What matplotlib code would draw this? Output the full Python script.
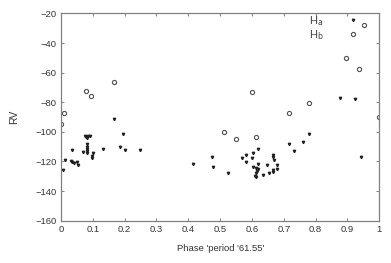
import matplotlib
matplotlib.use("Agg")
import matplotlib.pyplot as plt

# H_a : filled small triangles
ha_phase = [0.007, 0.013, 0.034, 0.030, 0.036, 0.040, 0.051, 0.052, 0.068,
            0.075, 0.080, 0.085, 0.090, 0.082, 0.082, 0.082, 0.082, 0.082, 0.082,
            0.096, 0.096, 0.100, 0.133, 0.167, 0.185, 0.194, 0.201, 0.248,
            0.416, 0.474, 0.479, 0.524, 0.568, 0.581, 0.581, 0.599, 0.602, 0.620,
            0.604, 0.620, 0.612, 0.615, 0.612, 0.610, 0.613, 0.618, 0.636, 0.648,
            0.653, 0.665, 0.667, 0.669, 0.665, 0.667, 0.680, 0.680, 0.716, 0.733,
            0.759, 0.780, 0.877, 0.924, 0.943]
ha_rv = [-125.8, -118.7, -112.3, -119.5, -120.2, -121.3, -120.6, -122.4, -113.5,
         -102.8, -103.5, -102.5, -103.0, -104.0, -108.5, -110.0, -111.5, -113.0, -114.5,
         -116.2, -118.0, -114.3, -111.6, -91.6, -110.3, -101.7, -112.3, -112.3,
         -122.0, -117.2, -123.6, -128.0, -118.0, -115.7, -120.6, -117.5, -114.6, -111.7,
         -123.6, -122.0, -124.7, -126.5, -128.0, -129.5, -130.3, -125.0, -129.2, -122.4,
         -128.0, -115.7, -116.8, -119.0, -127.0, -125.8, -122.4, -125.3, -108.5, -113.0,
         -107.1, -101.7, -77.2, -77.9, -116.8]

# H_b : open circles
hb_phase = [0.0, 0.01, 0.078, 0.093, 0.167, 0.512, 0.549, 0.600, 0.612, 0.716,
            0.779, 0.895, 0.936, 0.952, 1.0]
hb_rv = [-95.0, -87.0, -72.5, -75.6, -66.2, -100.4, -104.9, -73.1, -103.3, -87.3,
         -80.6, -50.2, -57.6, -27.9, -90.0]

xticks = [0, 0.1, 0.2, 0.3, 0.4, 0.5, 0.6, 0.7, 0.8, 0.9, 1]
xticklabels = ["0", "0.1", "0.2", "0.3", "0.4", "0.5", "0.6", "0.7", "0.8", "0.9", "1"]
yticks = [-160, -140, -120, -100, -80, -60, -40, -20]

plt.rcParams['font.family'] = ['Liberation Sans', 'DejaVu Sans']

fig = plt.figure(figsize=(3.91, 2.63), dpi=100)
ax = fig.add_axes([0.156, 0.161, 0.814, 0.788])

ax.plot(ha_phase, ha_rv, linestyle='none', marker='v', markersize=1.7,
        color='#202020', label='H$_\\mathrm{a}$')
ax.plot(hb_phase, hb_rv, linestyle='none', marker='o', markersize=3.0,
        markerfacecolor='none', markeredgecolor='#505050', markeredgewidth=0.8,
        label='H$_\\mathrm{b}$')

ax.set_xlim(0, 1)
ax.set_ylim(-160, -20)
ax.set_xticks(xticks)
ax.set_xticklabels(xticklabels)
ax.set_yticks(yticks)
ax.tick_params(direction='in', top=True, right=True, length=2.5, width=0.6,
               colors='#707070', labelcolor='#333333', labelsize=6.8, pad=3)
for s in ax.spines.values():
    s.set_color('#808080')
    s.set_linewidth(0.9)

ax.set_xlabel("Phase 'period '61.55'", fontsize=6.8, color='#333333', labelpad=7)
ax.set_ylabel("RV", fontsize=7.5, color='#333333', labelpad=12)

ax.legend(loc='upper right', bbox_to_anchor=(0.95, 1.02), frameon=False,
          markerfirst=False, fontsize=8, handlelength=1.0, handletextpad=2.2,
          labelspacing=0.05, labelcolor='#444444', borderaxespad=0)

fig.savefig("out.png", dpi=100)
